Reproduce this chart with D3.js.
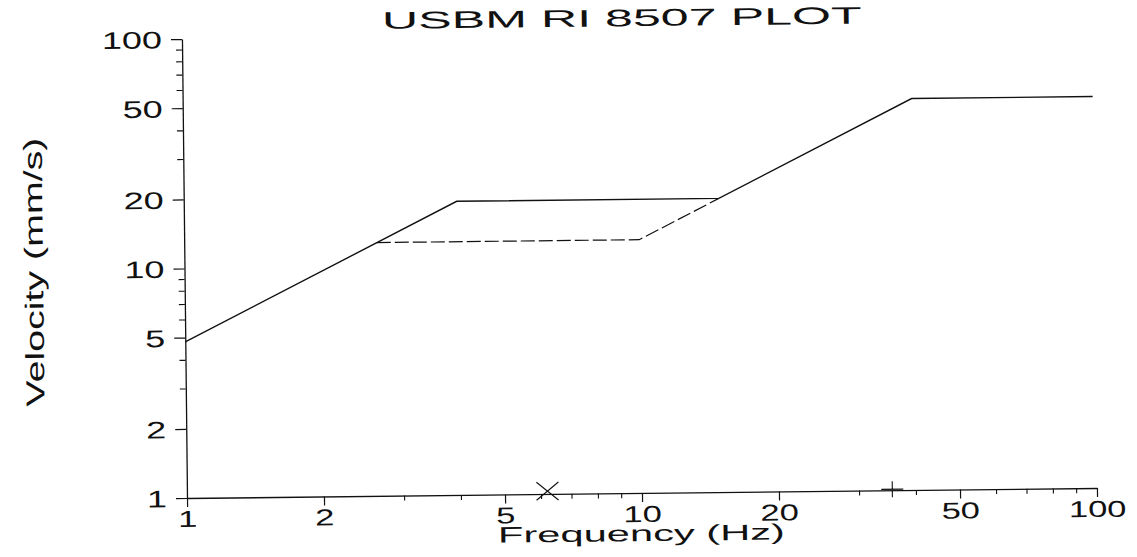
<!DOCTYPE html>
<html><head><meta charset="utf-8">
<script src="https://cdn.jsdelivr.net/npm/d3@7"></script>
<style>
body{margin:0;background:#fff}
svg{display:block}
text{font-family:"Liberation Sans",Arial,sans-serif;fill:#111}
</style>
</head><body>
<svg id="c" width="1137" height="557"></svg>
<script>
// ---- data ----
const xMajorTicks = [1, 2, 5, 10, 20, 50, 100];
const xMinorTicks = [3, 4, 6, 7, 8, 9, 30, 40, 60, 70, 80, 90];
const yMajorTicks = [1, 2, 5, 10, 20, 50, 100];
const yMinorTicks = [3, 4, 6, 7, 8, 9, 30, 40, 60, 70, 80, 90];
const solidFreq = [1, 3.98, 15, 40, 100];
const solidVel  = [4.79, 19.05, 19.05, 50.8, 50.8];
const dashFreq  = [2.65, 10, 15];
const dashVel   = [12.7, 12.7, 19.05];
const crossFreq = [6.2];
const crossVel  = [1.03];
const plusFreq  = [35.5];
const plusVel   = [1.01];
const titleText = "USBM RI 8507 PLOT";
const xLabelText = "Frequency (Hz)";
const yLabelText = "Velocity (mm/s)";

// ---- layout ----
const svg = d3.select("#c");
const g = svg.append("g").attr("transform", "translate(187,498) rotate(-0.63)");
const x = d3.scaleLog().domain([1, 100]).range([0, 910]);
const y = d3.scaleLog().domain([1, 100]).range([0, -459]);
const ink = "#111";
const tickK = 1.5;

// y axis
const yAx = g.append("g").call(d3.axisLeft(y).tickValues(yMajorTicks).tickFormat(d3.format("d")).tickSize(11).tickSizeOuter(0));
yAx.select(".domain").attr("stroke", ink).attr("stroke-width", 1.3);
yAx.selectAll(".tick line").attr("stroke", ink).attr("stroke-width", 1.2);
yAx.selectAll(".tick text").attr("x", 0).attr("dy", "0.36em").attr("font-size", 24)
  .attr("font-family", null).attr("text-anchor", "end")
  .attr("transform", `translate(-20,0) scale(${tickK},1)`);
const yMin = g.append("g").call(d3.axisLeft(y).tickValues(yMinorTicks).tickFormat("").tickSize(6).tickSizeOuter(0));
yMin.select(".domain").remove();
yMin.selectAll(".tick line").attr("stroke", ink).attr("stroke-width", 1.1);

// x axis
const xAx = g.append("g").call(d3.axisBottom(x).tickValues(xMajorTicks).tickFormat(d3.format("d")).tickSize(9).tickSizeOuter(0));
xAx.select(".domain").attr("stroke", ink).attr("stroke-width", 1.3);
xAx.selectAll(".tick line").attr("stroke", ink).attr("stroke-width", 1.2);
xAx.selectAll(".tick text").attr("y", 0).attr("dy", 0).attr("font-size", 23)
  .attr("font-family", null).attr("text-anchor", "middle")
  .attr("transform", `translate(0,29) scale(${tickK},1)`);
const xMin = g.append("g").call(d3.axisBottom(x).tickValues(xMinorTicks).tickFormat("").tickSize(5).tickSizeOuter(0));
xMin.select(".domain").remove();
xMin.selectAll(".tick line").attr("stroke", ink).attr("stroke-width", 1.1);

// lines
const line = d3.line().x(d => x(d[0])).y(d => y(d[1]));
g.append("path").datum(d3.zip(solidFreq, solidVel)).attr("d", line)
  .attr("fill", "none").attr("stroke", ink).attr("stroke-width", 1.4);
g.append("path").datum(d3.zip(dashFreq, dashVel)).attr("d", line)
  .attr("fill", "none").attr("stroke", ink).attr("stroke-width", 1.2).attr("stroke-dasharray", "14,4");

// markers
d3.zip(crossFreq, crossVel).forEach(([f, v]) => {
  const cx = x(f), cy = y(v);
  g.append("path").attr("d", `M${cx-11},${cy-9}L${cx+11},${cy+9}M${cx-11},${cy+9}L${cx+11},${cy-9}`)
    .attr("stroke", ink).attr("stroke-width", 1.1).attr("fill", "none");
});
d3.zip(plusFreq, plusVel).forEach(([f, v]) => {
  const cx = x(f), cy = y(v);
  g.append("path").attr("d", `M${cx-11},${cy}L${cx+11},${cy}M${cx},${cy-8}L${cx},${cy+8}`)
    .attr("stroke", ink).attr("stroke-width", 1.1).attr("fill", "none");
});

// texts stretched to measured widths
function stretched(parent, txt, size, target, tf) {
  const t = parent.append("text").text(txt).attr("font-size", size).attr("text-anchor", "middle");
  const len = t.node().getComputedTextLength();
  t.attr("transform", tf + ` scale(${target / len},1)`);
  return t;
}
stretched(g, titleText, 24, 480, "translate(440,-467)");
stretched(g, xLabelText, 22, 287, `translate(${x(10) - 1},48)`);
stretched(g, yLabelText, 26, 269, "translate(-141.5,-227.6) rotate(-90)");
</script>
</body></html>
